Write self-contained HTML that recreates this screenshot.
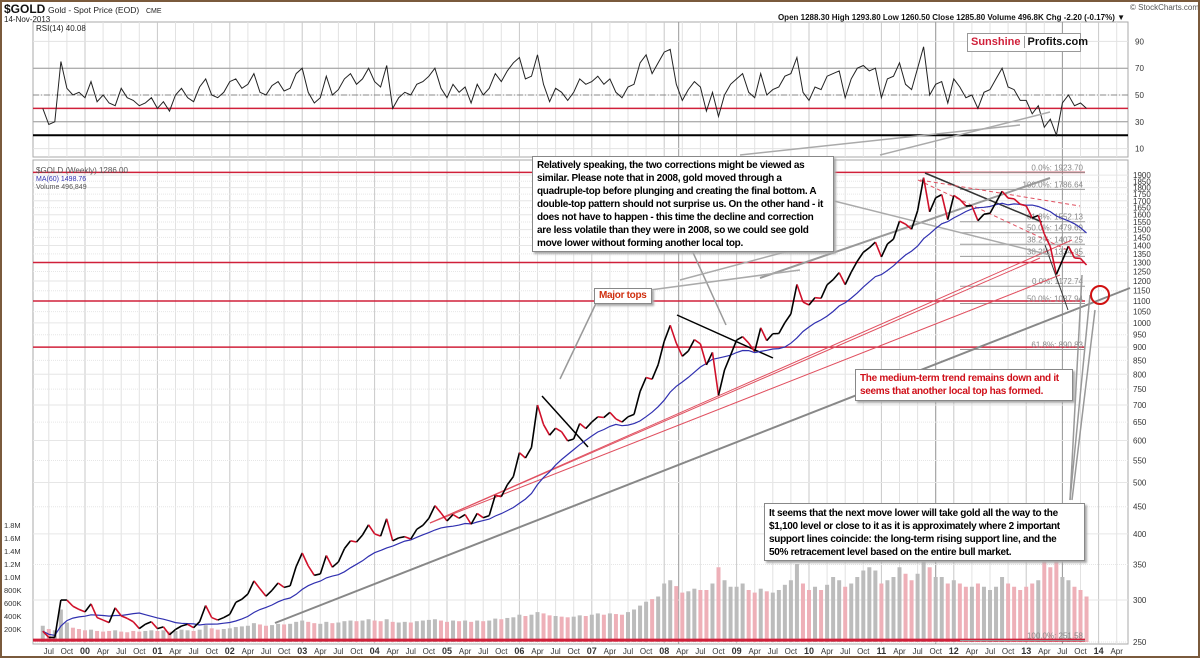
<!DOCTYPE html>
<html><head><meta charset="utf-8">
<style>
body{margin:0;background:#fff;}
#wrap{position:relative;width:1200px;height:658px;overflow:hidden;background:#fff;box-sizing:border-box;border:2px solid #7a5a3c;}
svg{position:absolute;left:-2px;top:-2px;}
text{font-family:"Liberation Sans",sans-serif;}
.box{position:absolute;background:#fff;border:1px solid #888;box-shadow:2px 2px 2px #aaa;font-family:"Liberation Sans",sans-serif;font-weight:bold;font-size:10px;letter-spacing:-0.3px;line-height:13px;padding:2px 4px;box-sizing:border-box;white-space:nowrap;overflow:hidden;}
</style></head><body>
<div id="wrap">
<svg id="chart" width="1200" height="658" xmlns="http://www.w3.org/2000/svg"></svg>
<div class="box" style="left:530px;top:154px;width:302px;height:96px;">Relatively speaking, the two corrections might be viewed as<br>similar. Please note that in 2008, gold moved through a<br>quadruple-top before plunging and creating the final bottom. A<br>double-top pattern should not surprise us. On the other hand - it<br>does not have to happen - this time the decline and correction<br>are less volatile than they were in 2008, so we could see gold<br>move lower without forming another local top.</div>
<div class="box" style="left:592px;top:286px;width:58px;height:16px;color:#d03010;padding:1px 4px;line-height:12px;">Major tops</div>
<div class="box" style="left:853px;top:367px;width:218px;height:32px;color:#d0101a;padding:2px 4px;">The medium-term trend remains down and it<br>seems that another local top has formed.</div>
<div class="box" style="left:762px;top:501px;width:321px;height:58px;padding:3px 4px;">It seems that the next move lower will take gold all the way to the<br>$1,100 level or close to it as it is approximately where 2 important<br>support lines coincide: the long-term rising support line, and the<br>50% retracement level based on the entire bull market.</div>
<div style="position:absolute;left:965px;top:31px;width:112px;height:17px;border:1px solid #999;background:#fff;font:bold 11px 'Liberation Sans',sans-serif;line-height:17px;"><span style="color:#d0203a;padding-left:3px;">Sunshine</span><span style="border-left:1px solid #999;margin-left:3px;padding-left:3px;color:#111;">Profits.com</span></div>
</div>
<script>
// ---- data (monthly, Jun 1999 .. Nov 2013) ----
const startYear = 1999 + 5/12;
const closes = [262,255,255,300,300,292,288,
285,295,278,275,272,290,280,277,273,265,270,273,
265,267,258,264,268,270,266,273,293,278,275,278,
282,297,301,308,326,315,305,313,323,317,319,347,
368,348,334,336,364,346,354,375,388,386,398,416,
400,396,427,388,393,395,391,408,415,428,452,438,
423,435,428,435,417,437,429,433,473,470,495,513,
569,556,582,700,643,614,633,623,599,604,646,632,
650,665,663,678,659,650,665,672,742,789,783,834,
923,990,916,865,885,930,913,833,880,730,815,869,
928,942,916,883,979,926,954,955,1001,1040,1182,1095,
1081,1116,1113,1180,1207,1244,1181,1247,1307,1359,1386,1421,
1332,1409,1439,1556,1536,1502,1628,1880,1620,1722,1746,1566,
1740,1710,1662,1663,1559,1604,1610,1687,1772,1720,1714,1675,
1663,1578,1595,1472,1393,1234,1312,1396,1326,1323,1286];
const rsi = [40,28,30,75,55,50,52,
48,60,45,50,44,42,55,48,46,42,44,48,
40,45,38,50,55,48,45,56,62,50,48,52,
60,62,55,58,66,52,50,57,60,53,55,66,
70,52,44,48,64,50,54,62,66,58,62,70,
60,56,72,40,48,52,50,58,60,64,70,55,
48,58,52,56,44,58,50,55,66,60,68,74,
78,62,64,80,58,45,55,52,46,52,62,58,
60,64,58,62,52,48,56,58,74,80,66,74,
82,84,58,46,54,60,56,38,52,34,50,58,
62,66,52,48,66,50,54,56,64,66,78,52,
46,56,54,64,66,68,48,62,70,72,68,70,
48,62,64,74,58,54,70,86,50,58,60,44,
62,56,48,50,40,52,54,62,70,56,54,46,
46,36,42,26,32,20,44,50,42,44,40];
const volumes = [250,200,180,500,300,220,200,
180,190,170,160,170,180,160,150,170,160,170,180,
170,180,160,170,190,180,170,190,260,210,190,200,
210,230,240,250,290,270,250,260,280,270,280,310,
330,310,290,280,310,290,300,320,330,320,330,350,
330,320,350,310,300,310,300,320,330,340,350,330,
310,330,320,330,310,330,320,330,360,350,370,380,
420,400,420,460,440,410,400,390,380,390,410,400,
420,440,420,440,430,420,460,500,560,620,660,700,
900,950,860,760,780,820,800,800,900,1150,950,850,
850,900,800,760,820,780,760,800,880,950,1200,900,
800,850,800,880,1000,950,850,900,1000,1100,1150,1100,
900,950,1000,1150,1050,950,1050,1350,1150,1000,1000,900,
950,900,850,850,900,850,800,850,1000,900,850,800,
850,900,950,1300,1150,1250,1000,950,850,800,700];
const rsiTicks = [90,70,50,30,10];
const priceTicks = [1900,1850,1800,1750,1700,1650,1600,1550,1500,1450,1400,1350,1300,1250,1200,1150,1100,1050,1000,950,900,850,800,750,700,650,600,550,500,450,400,350,300,250];
const volTicks = [200,400,600,800,1000,1200,1400,1600,1800];
const volTickLabels = ["200K","400K","600K","800K","1.0M","1.2M","1.4M","1.6M","1.8M"];
const fibValues = [1923.70,1786.64,1552.13,1479.69,1407.25,1334.95,1172.74,1087.94,890.83,251.58];
const fibLabels = ["0.0%: 1923.70","100.0%: 1786.64","61.8%: 1552.13","50.0%: 1479.69","38.2%: 1407.25","38.2%: 1334.95","0.0%: 1172.74","50.0%: 1087.94","61.8%: 890.83","100.0%: 251.58"];
const redLevels = [1923.70,1300,1100,900,252];

// ---- axes ----
const X0 = 33, X1 = 1128;
const xT = t => 85 + (t - 2000) * 72.4;
const xI = i => xT(startYear + i / 12);
const yP = p => 642 - (Math.log10(p) - Math.log10(250)) * 530;
const yR = v => 95 - (v - 50) * 1.34;
const yV = v => 642 - v * 0.065;

const svg = document.getElementById('chart');
const NS = 'http://www.w3.org/2000/svg';
function mk(tag, attrs, parent){const e=document.createElementNS(NS,tag);for(const k in attrs)e.setAttribute(k,attrs[k]);(parent||svg).appendChild(e);return e;}
function txt(x,y,s,attrs,parent){const e=mk('text',Object.assign({x:x,y:y},attrs),parent);e.textContent=s;return e;}

const g0 = mk('g',{});


mk('rect',{x:X0,y:22,width:X1-X0,height:135,fill:'#fff',stroke:'#aaa'},g0);
mk('rect',{x:X0,y:160,width:X1-X0,height:484,fill:'#fff',stroke:'#aaa'},g0);

const gGrid = mk('g',{});


const mon = ['Jan','Apr','Jul','Oct'];
for(let q=0;q<60;q++){
  const t = 1999.5 + q*0.25;
  const x = xT(t);
  if(x<X0||x>X1) continue;
  const isYear = Math.abs(t-Math.round(t))<0.01;
  const col = isYear ? '#c8c8c8':'#e2e2e2';
  mk('line',{x1:x,x2:x,y1:22,y2:157,stroke:col},gGrid);
  mk('line',{x1:x,x2:x,y1:160,y2:644,stroke:col},gGrid);
  const lab = isYear ? String(Math.round(t)%100).padStart(2,'0') : mon[Math.round((t%1)*4)];
  const tl = txt(x,654,lab,{'font-size':isYear?9:8,'font-weight':isYear?'bold':'normal','text-anchor':'middle',fill:'#333'},gGrid);
  
  
}
[2008.2,2011.75,2013.5].forEach(t=>{mk('line',{x1:xT(t),x2:xT(t),y1:22,y2:644,stroke:'#999'},gGrid);});

rsiTicks.forEach(v=>{
  mk('line',{x1:X0,x2:X1,y1:yR(v),y2:yR(v),stroke:'#e2e2e2'},gGrid);
  const t=txt(1135,yR(v)+3,String(v),{'font-size':8,fill:'#333'},gGrid);
  
  
});
mk('line',{x1:X0,x2:X1,y1:yR(70),y2:yR(70),stroke:'#999'},gGrid);
mk('line',{x1:X0,x2:X1,y1:yR(30),y2:yR(30),stroke:'#999'},gGrid);
mk('line',{x1:X0,x2:X1,y1:yR(50),y2:yR(50),stroke:'#888','stroke-dasharray':'6,2,1,2'},gGrid);
mk('line',{x1:X0,x2:X1,y1:yR(40),y2:yR(40),stroke:'#d0203a','stroke-width':1.5},gGrid);
mk('line',{x1:X0,x2:X1,y1:yR(20),y2:yR(20),stroke:'#000','stroke-width':2},gGrid);
const rsiPts = rsi.map((v,i)=>xI(i).toFixed(1)+','+yR(v).toFixed(1)).join(' ');
const rsiLine = mk('polyline',{points:rsiPts,fill:'none',stroke:'#222','stroke-width':1});



priceTicks.forEach(p=>{
  mk('line',{x1:X0,x2:X1,y1:yP(p),y2:yP(p),stroke:'#e6e6e6','stroke-dasharray':p%100===0?'':'1,1'},gGrid);
  const t=txt(1133,yP(p)+3,String(p),{'font-size':8,fill:'#333'},gGrid);
  
  
});
volTicks.forEach((v,i)=>{
  const t=txt(4,yV(v)+3,volTickLabels[i],{'font-size':7.5,fill:'#333'},gGrid);
  
  
});

volumes.forEach((v,i)=>{
  const up = i===0 || closes[i]>=closes[i-1];
  const b = mk('rect',{x:xI(i)-2,y:yV(v),width:4,height:642-yV(v),fill:up?'#bcbcbc':'#eeb0b8'});
  
  
});

redLevels.forEach(p=>{
  const l=mk('line',{x1:X0,x2:1085,y1:yP(p),y2:yP(p),stroke:'#d0203a','stroke-width':p<300?3:1.5});
  
  
});
fibValues.forEach((p,i)=>{
  mk('line',{x1:960,x2:1085,y1:yP(p),y2:yP(p),stroke:'#999'});
  const t=txt(1083,yP(p)-2,fibLabels[i],{'font-size':8,fill:'#888','text-anchor':'end'});
  
  
});

const gT = mk('g',{});


mk('line',{x1:275,y1:623,x2:1130,y2:288,stroke:'#888','stroke-width':2},gT);
mk('line',{x1:430,y1:523,x2:1072,y2:240,stroke:'#e05060','stroke-width':1},gT);
mk('line',{x1:430,y1:523,x2:1060,y2:275,stroke:'#e05060','stroke-width':1},gT);
mk('line',{x1:430,y1:523,x2:1040,y2:258,stroke:'#e05060','stroke-width':1},gT);
mk('line',{x1:542,y1:396,x2:588,y2:447,stroke:'#000','stroke-width':1.5},gT);
mk('line',{x1:677,y1:315,x2:773,y2:358,stroke:'#000','stroke-width':1.5},gT);
mk('line',{x1:925,y1:173,x2:1042,y2:222,stroke:'#333','stroke-width':1.5},gT);
mk('line',{x1:920,y1:180,x2:1080,y2:206,stroke:'#e05060','stroke-dasharray':'4,3'},gT);
mk('line',{x1:918,y1:180,x2:1080,y2:256,stroke:'#e05060','stroke-dasharray':'4,3'},gT);
mk('line',{x1:1045,y1:245,x2:1068,y2:310,stroke:'#333','stroke-width':1},gT);
mk('line',{x1:760,y1:278,x2:1050,y2:178,stroke:'#999','stroke-width':2},gT);
mk('line',{x1:560,y1:379,x2:600,y2:295,stroke:'#999','stroke-width':1.5},gT);
mk('line',{x1:690,y1:246,x2:726,y2:325,stroke:'#999','stroke-width':1.5},gT);
mk('line',{x1:650,y1:290,x2:800,y2:270,stroke:'#aaa','stroke-width':1.5},gT);
mk('line',{x1:680,y1:280,x2:830,y2:240,stroke:'#aaa','stroke-width':1.5},gT);
mk('line',{x1:830,y1:200,x2:1050,y2:255,stroke:'#aaa','stroke-width':1.5},gT);
mk('line',{x1:740,y1:155,x2:1020,y2:125,stroke:'#aaa','stroke-width':1.5},gT);
mk('line',{x1:880,y1:155,x2:1050,y2:112,stroke:'#aaa','stroke-width':1.5},gT);
mk('line',{x1:1070,y1:500,x2:1090,y2:295,stroke:'#999','stroke-width':1.5},gT);
mk('line',{x1:1070,y1:500,x2:1082,y2:275,stroke:'#999','stroke-width':1.5},gT);
mk('line',{x1:1072,y1:500,x2:1095,y2:310,stroke:'#999','stroke-width':1.5},gT);
mk('circle',{cx:1100,cy:295,r:9,fill:'none',stroke:'#d01010','stroke-width':2},gT);

const maN = 14, maPts=[];
closes.forEach((c,i)=>{const s=closes.slice(Math.max(0,i-maN+1),i+1);const m=s.reduce((a,b)=>a+b,0)/s.length;maPts.push(xI(i).toFixed(1)+','+yP(m).toFixed(1));});
const ma = mk('polyline',{points:maPts.join(' '),fill:'none',stroke:'#3030b0','stroke-width':1.2});



closes.forEach((c,i)=>{
  if(i===0) return;
  const s = mk('line',{x1:xI(i-1),y1:yP(closes[i-1]),x2:xI(i),y2:yP(c),stroke:c>=closes[i-1]?'#000':'#d0102a','stroke-width':1.6});
  
  
});

const h = mk('g',{});


txt(4,13,'$GOLD',{'font-size':12,'font-weight':'bold',fill:'#111'},h);
txt(48,13,'Gold - Spot Price (EOD)',{'font-size':8.5,fill:'#222'},h);
txt(146,13,'CME',{'font-size':7,fill:'#222'},h);
txt(4,22,'14-Nov-2013',{'font-size':8,fill:'#222'},h);
txt(36,31,'RSI(14) 40.08',{'font-size':8,fill:'#222','font-family':'Liberation Mono'},h);
txt(1130,10,'© StockCharts.com',{'font-size':8,fill:'#555'},h);
txt(1125,20,'Open 1288.30   High 1293.80   Low 1260.50   Close 1285.80   Volume 496.8K   Chg -2.20 (-0.17%) ▼',{'font-size':8,'font-weight':'bold',fill:'#111','text-anchor':'end'},h);
txt(36,173,'$GOLD (Weekly) 1286.00',{'font-size':8,fill:'#555'},h);
txt(36,181,'MA(60) 1498.76',{'font-size':7,fill:'#3030b0'},h);
txt(36,189,'Volume 496,849',{'font-size':7,fill:'#555'},h);
</script>
</body></html>
